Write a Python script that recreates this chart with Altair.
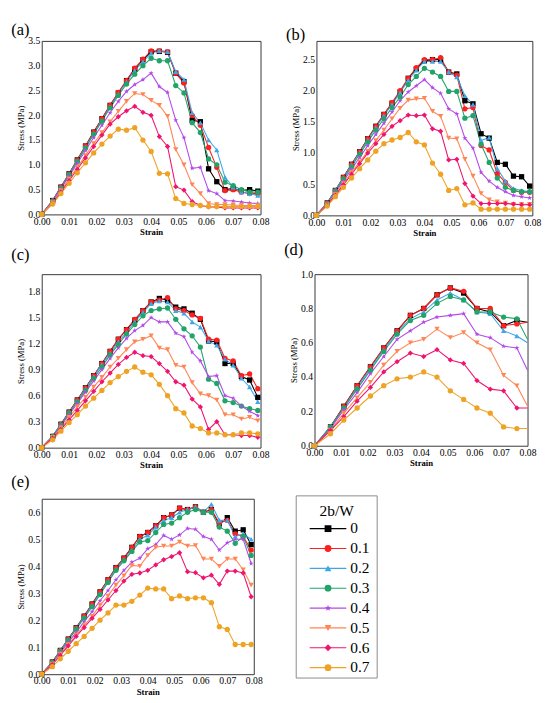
import altair as alt
import pandas as pd

RATIOS = ["0", "0.1", "0.2", "0.3", "0.4", "0.5", "0.6", "0.7"]
COLORS = ["#000000", "#ff1f1f", "#3fa7e8", "#21a36a", "#b24ae8", "#ff8654", "#ef146f", "#eea325"]
STAR = "M0,-1L0.235,-0.324L0.951,-0.309L0.38,0.124L0.588,0.809L0,0.4L-0.588,0.809L-0.38,0.124L-0.951,-0.309L-0.235,-0.324Z"
SHAPES = ["square", "circle", "triangle-up", "circle", STAR, "triangle-down", "diamond", "circle"]

X_TICKS = [0.00, 0.01, 0.02, 0.03, 0.04, 0.05, 0.06, 0.07, 0.08]

STRAIN_3 = [0.000, 0.004, 0.007, 0.010, 0.013, 0.016, 0.019, 0.022, 0.025, 0.028, 0.031, 0.034, 0.037,
            0.040, 0.043, 0.046, 0.049, 0.052, 0.055, 0.058, 0.061, 0.064, 0.067, 0.070, 0.073, 0.076, 0.079]
STRAIN_5 = [0.000, 0.006, 0.011, 0.016, 0.021, 0.026, 0.031, 0.036, 0.041, 0.046, 0.051, 0.056, 0.061,
            0.066, 0.071, 0.076, 0.080]

A_STRESS = [
    [0, 0.28, 0.55, 0.82, 1.1, 1.38, 1.66, 1.93, 2.2, 2.45, 2.7, 2.93, 3.12, 3.28, 3.29, 3.27, 2.85, 2.68, 1.9, 1.87, 0.92, 0.66, 0.5, 0.52, 0.48, 0.5, 0.47],
    [0, 0.28, 0.55, 0.82, 1.1, 1.38, 1.66, 1.93, 2.2, 2.46, 2.7, 2.95, 3.13, 3.3, 3.3, 3.28, 2.85, 2.65, 2.0, 1.8, 1.35, 0.95, 0.48, 0.5, 0.45, 0.42, 0.42],
    [0, 0.27, 0.54, 0.81, 1.08, 1.36, 1.63, 1.9, 2.17, 2.43, 2.67, 2.9, 3.08, 3.25, 3.3, 3.28, 2.88, 2.72, 2.05, 1.85, 1.5, 1.3, 0.75, 0.55, 0.45, 0.42, 0.38],
    [0, 0.27, 0.53, 0.8, 1.07, 1.34, 1.62, 1.88, 2.15, 2.4, 2.63, 2.83, 3.0, 3.15, 3.1, 3.1, 2.6, 2.45, 1.85, 1.65, 1.12, 1.0, 0.65, 0.58, 0.5, 0.45, 0.45],
    [0, 0.26, 0.52, 0.77, 1.03, 1.29, 1.55, 1.8, 2.05, 2.28, 2.48, 2.62, 2.72, 2.85, 2.58, 2.46, 1.9, 1.55, 0.93, 0.95, 0.48, 0.42, 0.28, 0.27, 0.25, 0.23, 0.22],
    [0, 0.24, 0.48, 0.72, 0.95, 1.19, 1.43, 1.65, 1.87, 2.08, 2.28, 2.44, 2.42, 2.3, 2.2, 1.98, 1.31, 1.0, 0.6, 0.42, 0.22, 0.2, 0.2, 0.19, 0.18, 0.18, 0.18],
    [0, 0.22, 0.45, 0.68, 0.91, 1.14, 1.37, 1.6, 1.82, 1.97, 2.09, 2.18, 2.06, 2.0, 1.57, 1.37, 0.56, 0.49, 0.26, 0.18, 0.15, 0.15, 0.13, 0.13, 0.13, 0.13, 0.13],
    [0, 0.21, 0.42, 0.63, 0.84, 1.04, 1.24, 1.42, 1.58, 1.72, 1.7, 1.75, 1.5, 1.27, 0.83, 0.82, 0.32, 0.22, 0.2, 0.18, 0.16, 0.16, 0.16, 0.16, 0.16, 0.16, 0.16],
]

B_STRESS = [
    [0, 0.2, 0.4, 0.61, 0.82, 1.02, 1.23, 1.43, 1.62, 1.8, 1.98, 2.2, 2.35, 2.48, 2.5, 2.5, 2.3, 2.27, 1.84, 1.79, 1.31, 1.24, 0.85, 0.82, 0.63, 0.62, 0.47],
    [0, 0.2, 0.4, 0.61, 0.82, 1.02, 1.23, 1.43, 1.62, 1.81, 2.0, 2.2, 2.37, 2.5, 2.5, 2.53, 2.3, 2.25, 1.71, 1.73, 1.12, 1.05, 0.67, 0.53, 0.4, 0.37, 0.37],
    [0, 0.2, 0.4, 0.6, 0.81, 1.01, 1.21, 1.41, 1.6, 1.78, 1.97, 2.17, 2.33, 2.47, 2.47, 2.47, 2.3, 2.22, 1.92, 1.78, 1.2, 1.25, 0.75, 0.55, 0.43, 0.4, 0.38],
    [0, 0.19, 0.39, 0.58, 0.78, 0.98, 1.18, 1.37, 1.55, 1.73, 1.9, 2.1, 2.23, 2.36, 2.3, 2.23, 1.99, 1.99, 1.56, 1.6, 1.14, 0.85, 0.6, 0.45, 0.4, 0.38, 0.38],
    [0, 0.18, 0.37, 0.55, 0.74, 0.93, 1.12, 1.3, 1.48, 1.66, 1.84, 1.98, 2.08, 2.18, 2.05, 1.96, 1.71, 1.63, 1.24, 1.08, 0.69, 0.55, 0.45, 0.38, 0.32, 0.3, 0.28],
    [0, 0.17, 0.34, 0.51, 0.69, 0.86, 1.03, 1.2, 1.37, 1.55, 1.72, 1.85, 1.87, 1.88, 1.67, 1.59, 1.24, 1.23, 0.9, 0.63, 0.35, 0.25, 0.22, 0.2, 0.18, 0.18, 0.18],
    [0, 0.16, 0.32, 0.49, 0.66, 0.83, 1.0, 1.15, 1.3, 1.43, 1.52, 1.61, 1.6, 1.61, 1.39, 1.35, 0.89, 0.9, 0.51, 0.31, 0.19, 0.19, 0.19, 0.19, 0.18, 0.17, 0.17],
    [0, 0.15, 0.3, 0.45, 0.6, 0.75, 0.89, 1.03, 1.15, 1.21, 1.25, 1.33, 1.18, 1.13, 0.84, 0.66, 0.4, 0.43, 0.17, 0.2, 0.1, 0.1, 0.1, 0.1, 0.1, 0.1, 0.1],
]

C_STRESS = [
    [0, 0.13, 0.27, 0.41, 0.55, 0.69, 0.83, 0.97, 1.11, 1.25, 1.36, 1.47, 1.58, 1.68, 1.72, 1.7, 1.62, 1.6, 1.55, 1.48, 1.23, 1.22, 0.97, 0.97, 0.82, 0.78, 0.58],
    [0, 0.13, 0.27, 0.41, 0.55, 0.69, 0.83, 0.97, 1.11, 1.25, 1.36, 1.48, 1.58, 1.68, 1.7, 1.73, 1.6, 1.58, 1.53, 1.49, 1.25, 1.24, 1.03, 1.0, 0.83, 0.85, 0.68],
    [0, 0.13, 0.27, 0.4, 0.54, 0.68, 0.82, 0.96, 1.09, 1.22, 1.33, 1.45, 1.56, 1.66, 1.69, 1.68, 1.58, 1.55, 1.45, 1.39, 1.23, 1.18, 1.02, 0.95, 0.8, 0.7, 0.53],
    [0, 0.13, 0.26, 0.4, 0.53, 0.66, 0.8, 0.93, 1.07, 1.19, 1.31, 1.42, 1.52, 1.58, 1.6, 1.61, 1.48, 1.37, 1.29, 1.16, 0.79, 0.74, 0.54, 0.52, 0.48, 0.45, 0.43],
    [0, 0.12, 0.25, 0.38, 0.51, 0.64, 0.77, 0.9, 1.03, 1.15, 1.26, 1.35, 1.41, 1.5, 1.45, 1.45, 1.32, 1.28, 1.1, 1.0, 0.82, 0.83, 0.6, 0.57, 0.48, 0.42, 0.37],
    [0, 0.12, 0.23, 0.35, 0.47, 0.58, 0.7, 0.81, 0.93, 1.03, 1.13, 1.22, 1.25, 1.29, 1.15, 1.13, 0.95, 0.93, 0.75, 0.62, 0.6, 0.55, 0.38, 0.38, 0.33, 0.35, 0.31],
    [0, 0.11, 0.21, 0.32, 0.43, 0.54, 0.65, 0.76, 0.86, 0.96, 1.04, 1.1, 1.06, 1.05, 0.97, 0.88, 0.76, 0.72, 0.56, 0.47, 0.21, 0.3, 0.15, 0.15, 0.14, 0.14, 0.12],
    [0, 0.09, 0.19, 0.29, 0.38, 0.48, 0.57, 0.66, 0.75, 0.82, 0.88, 0.93, 0.87, 0.84, 0.73, 0.6, 0.45, 0.4, 0.25, 0.22, 0.17, 0.17, 0.15, 0.15, 0.17, 0.17, 0.16],
]

D_STRESS = [
    [0, 0.11, 0.23, 0.35, 0.46, 0.57, 0.67, 0.76, 0.8, 0.88, 0.92, 0.89, 0.8, 0.78, 0.7, 0.73, 0.72],
    [0, 0.11, 0.23, 0.35, 0.46, 0.57, 0.67, 0.76, 0.8, 0.88, 0.92, 0.9, 0.8, 0.8, 0.7, 0.71, 0.72],
    [0, 0.11, 0.22, 0.34, 0.45, 0.56, 0.66, 0.74, 0.78, 0.85, 0.89, 0.85, 0.78, 0.77, 0.67, 0.64, 0.6],
    [0, 0.11, 0.22, 0.33, 0.44, 0.55, 0.65, 0.73, 0.76, 0.83, 0.87, 0.85, 0.78, 0.78, 0.75, 0.74, 0.62],
    [0, 0.1, 0.21, 0.31, 0.42, 0.52, 0.62, 0.67, 0.72, 0.75, 0.76, 0.77, 0.65, 0.63, 0.58, 0.57, 0.44],
    [0, 0.09, 0.19, 0.28, 0.37, 0.47, 0.55, 0.6, 0.62, 0.68, 0.63, 0.66, 0.6, 0.56, 0.41, 0.35, 0.23],
    [0, 0.09, 0.17, 0.26, 0.34, 0.43, 0.49, 0.54, 0.52, 0.56, 0.5, 0.48, 0.38, 0.33, 0.32, 0.22, 0.22],
    [0, 0.07, 0.15, 0.22, 0.29, 0.35, 0.39, 0.4, 0.43, 0.4, 0.32, 0.27, 0.22, 0.19, 0.11, 0.1, 0.1],
]

E_STRESS = [
    [0, 0.045, 0.088, 0.13, 0.172, 0.215, 0.26, 0.305, 0.35, 0.395, 0.43, 0.47, 0.51, 0.525, 0.55, 0.58, 0.59, 0.615, 0.61, 0.62, 0.6, 0.61, 0.555, 0.58, 0.53, 0.535, 0.48],
    [0, 0.045, 0.088, 0.13, 0.172, 0.215, 0.26, 0.305, 0.35, 0.395, 0.43, 0.47, 0.51, 0.525, 0.55, 0.58, 0.59, 0.615, 0.61, 0.62, 0.6, 0.61, 0.56, 0.57, 0.52, 0.51, 0.46],
    [0, 0.044, 0.087, 0.128, 0.17, 0.212, 0.255, 0.3, 0.345, 0.39, 0.425, 0.46, 0.5, 0.515, 0.545, 0.57, 0.58, 0.6, 0.61, 0.62, 0.6, 0.63, 0.57, 0.57, 0.51, 0.52, 0.5],
    [0, 0.043, 0.085, 0.125, 0.167, 0.208, 0.25, 0.295, 0.34, 0.385, 0.42, 0.455, 0.49, 0.495, 0.525, 0.555, 0.56, 0.58, 0.6, 0.61, 0.6, 0.6, 0.545, 0.53, 0.485, 0.51, 0.44],
    [0, 0.04, 0.08, 0.118, 0.155, 0.195, 0.232, 0.272, 0.31, 0.35, 0.385, 0.415, 0.43, 0.465, 0.48, 0.514, 0.5, 0.516, 0.54, 0.537, 0.51, 0.5, 0.46, 0.487, 0.5, 0.5, 0.41],
    [0, 0.038, 0.075, 0.11, 0.145, 0.18, 0.215, 0.255, 0.29, 0.33, 0.365, 0.403, 0.4, 0.44, 0.47, 0.475, 0.475, 0.49, 0.475, 0.477, 0.427, 0.427, 0.4, 0.427, 0.427, 0.387, 0.33],
    [0, 0.035, 0.07, 0.105, 0.14, 0.173, 0.207, 0.24, 0.275, 0.31, 0.345, 0.37, 0.375, 0.385, 0.405, 0.424, 0.436, 0.45, 0.38, 0.376, 0.357, 0.367, 0.333, 0.382, 0.382, 0.375, 0.287],
    [0, 0.028, 0.057, 0.085, 0.113, 0.14, 0.17, 0.2, 0.227, 0.256, 0.256, 0.27, 0.293, 0.319, 0.316, 0.316, 0.28, 0.29, 0.28, 0.283, 0.283, 0.265, 0.176, 0.166, 0.11, 0.11, 0.11],
]

A_TICKS = [0.0, 0.5, 1.0, 1.5, 2.0, 2.5, 3.0, 3.5]
B_TICKS = [0.0, 0.5, 1.0, 1.5, 2.0, 2.5]
C_TICKS = [0.0, 0.3, 0.6, 0.9, 1.2, 1.5, 1.8]
D_TICKS = [0.0, 0.2, 0.4, 0.6, 0.8, 1.0]
E_TICKS = [0.0, 0.1, 0.2, 0.3, 0.4, 0.5, 0.6]

SERIF = "Liberation Serif, Times New Roman, DejaVu Serif, serif"

color_enc = alt.Color("ratio:N", scale=alt.Scale(domain=RATIOS, range=COLORS), legend=None)
shape_enc = alt.Shape("ratio:N", scale=alt.Scale(domain=RATIOS, range=SHAPES), legend=None)


def panel(label, strain, series, ymax, yticks, w, h, toff):
    rows = []
    for r, vals in zip(RATIOS, series):
        for s, v in zip(strain, vals):
            rows.append({"strain": s, "stress": v, "ratio": r})
    df = pd.DataFrame(rows)
    x = alt.X("strain:Q", scale=alt.Scale(domain=[0, 0.08], nice=False),
              axis=alt.Axis(values=X_TICKS, format=".2f", title="Strain", titleFontWeight="bold",
                            labelFlush=False, labelOverlap=False))
    y = alt.Y("stress:Q", scale=alt.Scale(domain=[0, ymax], nice=False),
              axis=alt.Axis(values=yticks, format=".1f", title="Stress (MPa)", labelFlush=False,
                            labelOverlap=False))
    base = alt.Chart(df).encode(x=x, y=y, color=color_enc)
    lines = base.mark_line(strokeWidth=1.1)
    pts = base.mark_point(filled=True, size=30, opacity=1).encode(shape=shape_enc).transform_filter(
        "datum.strain < 0.0795")
    return alt.layer(lines, pts).properties(
        width=w, height=h,
        title=alt.TitleParams(label, anchor="start", frame="bounds", fontSize=17, font=SERIF,
                              fontWeight="normal", offset=toff, dx=-6),
    )


pa = panel("(a)", STRAIN_3, A_STRESS, 3.5, A_TICKS, 227, 180, -3)
pb = panel("(b)", STRAIN_3, B_STRESS, 2.8, B_TICKS, 224, 181, -3)
pc = panel("(c)", STRAIN_3, C_STRESS, 2.0, C_TICKS, 227, 180, 11)
pd_ = panel("(d)", STRAIN_5, D_STRESS, 1.0, D_TICKS, 221, 178, 11)
pe = panel("(e)", STRAIN_3, E_STRESS, 0.65, E_TICKS, 220, 182, 8)

leg_df = pd.DataFrame({"ratio": RATIOS, "idx": list(range(len(RATIOS)))})
ly = alt.Y("idx:Q", scale=alt.Scale(domain=[-1.505, 7.67], reverse=True, nice=False, zero=False), axis=None)
leg_box = alt.Chart(pd.DataFrame({"b": [1]})).mark_rect(
    fillOpacity=0, stroke="#888888", strokeWidth=1).encode(
    x=alt.value(0), x2=alt.value(84), y=alt.value(-3), y2=alt.value(186))
leg_rule = alt.Chart(leg_df).mark_rule(strokeWidth=1.2).encode(
    x=alt.value(14), x2=alt.value(52), y=ly, color=color_enc)
leg_pts = alt.Chart(leg_df).mark_point(filled=True, size=50, opacity=1).encode(
    x=alt.value(33), y=ly, color=color_enc, shape=shape_enc)
leg_txt = alt.Chart(leg_df).mark_text(align="left", baseline="middle", fontSize=16, font=SERIF,
                                       color="black").encode(x=alt.value(56), y=ly, text="ratio:N")
leg_ttl = alt.Chart(pd.DataFrame({"t": ["2b/W"]})).mark_text(
    align="center", baseline="middle", fontSize=16, font=SERIF, color="black").encode(
    x=alt.value(42), y=alt.value(13), text="t:N")
legend = alt.layer(leg_box, leg_rule, leg_pts, leg_txt, leg_ttl).properties(
    width=84, height=189,
    view=alt.ViewBackground(strokeWidth=0),
)

row1 = alt.hconcat(pa, pb, spacing=16)
row2 = alt.hconcat(pc, pd_, spacing=14)
row3 = alt.hconcat(pe, legend, spacing=33)

chart = alt.vconcat(row1, row2, row3, spacing=2).properties(
    padding={"left": 3, "top": 0, "right": 0, "bottom": 0}
).configure_view(
    stroke="#333333", strokeWidth=1
).configure_axis(
    grid=False, ticks=False, domain=False,
    labelFont=SERIF, titleFont=SERIF, labelFontSize=10, titleFontSize=9,
    labelColor="black", titleColor="black", titleFontWeight="normal",
    labelPadding=2, titlePadding=2,
)

chart.save("out.html", embed_options={"renderer": "svg", "actions": False})
